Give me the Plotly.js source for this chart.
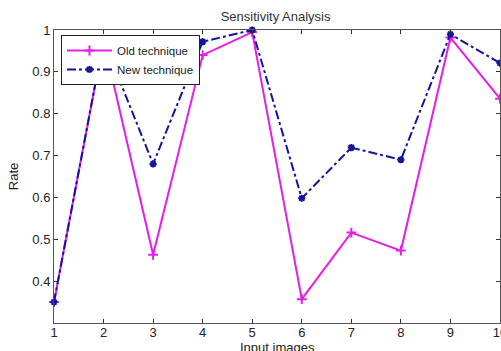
<!DOCTYPE html>
<html>
<head>
<meta charset="utf-8">
<script src="https://cdn.plot.ly/plotly-3.0.1.min.js"></script>
<style>
html,body{margin:0;padding:0;background:#fff;}
#chart{width:501px;height:351px;}
</style>
</head>
<body>
<div id="chart"></div>
<script>
var inputImages = [1, 2, 3, 4, 5, 6, 7, 8, 9, 10];
var oldTechnique = [0.35, 0.975, 0.463, 0.94, 0.995, 0.357, 0.516, 0.473, 0.982, 0.836];
var newTechnique = [0.35, 0.975, 0.68, 0.972, 1.0, 0.598, 0.719, 0.69, 0.99, 0.921];
var yTickVals = [0.4, 0.5, 0.6, 0.7, 0.8, 0.9, 1];
var yTickText = ["0.4", "0.5", "0.6", "0.7", "0.8", "0.9", "1"];
var xTickVals = [1, 2, 3, 4, 5, 6, 7, 8, 9, 10];
var xTitle = "Input images";

var fam = "Liberation Sans, Arial, sans-serif";

var traces = [
  {
    x: inputImages, y: oldTechnique, name: "Old technique",
    type: "scatter", mode: "lines+markers",
    line: {color: "#e41ee4", width: 2, dash: "solid"},
    marker: {symbol: "cross-thin-open", size: 7, line: {color: "#e41ee4", width: 2}, color: "#e41ee4"},
    cliponaxis: false
  },
  {
    x: inputImages, y: newTechnique, name: "New technique",
    type: "scatter", mode: "lines+markers",
    line: {color: "#14149e", width: 2, dash: "dashdot"},
    marker: {symbol: "asterisk-open", size: 6, line: {color: "#14149e", width: 2}, color: "#14149e"},
    cliponaxis: false
  }
];

var layout = {
  width: 501, height: 351,
  margin: {l: 54, r: 1, t: 30, b: 28, pad: 0},
  paper_bgcolor: "#fff", plot_bgcolor: "#fff",
  font: {family: fam, size: 12, color: "#222"},
  showlegend: true,
  title: {text: "Sensitivity Analysis", font: {family: fam, size: 13, color: "#333"}, x: 0.55, xanchor: "center", y: 0.952, yanchor: "middle"},
  xaxis: {
    range: [1, 10], tickvals: xTickVals, ticktext: xTickVals.map(String),
    ticks: "inside", ticklen: 4, tickcolor: "#333", tickwidth: 1,
    ticklabeloverflow: "allow", ticklabelstandoff: -3,
    showline: true, linecolor: "#555", linewidth: 1, mirror: "allticks",
    showgrid: false, zeroline: false, automargin: false,
    tickfont: {family: fam, size: 13, color: "#222"}
  },
  yaxis: {
    range: [0.3, 1], tickvals: yTickVals, ticktext: yTickText,
    ticks: "inside", ticklen: 4, tickcolor: "#333", tickwidth: 1,
    showline: true, linecolor: "#555", linewidth: 1, mirror: "allticks",
    showgrid: false, zeroline: false, automargin: false,
    tickfont: {family: fam, size: 13, color: "#222"},
    title: {text: "Rate", font: {family: fam, size: 13, color: "#222"}}
  },
  annotations: [{
    text: xTitle, xref: "paper", yref: "paper", x: 0.5, y: 0,
    xanchor: "center", yanchor: "top", yshift: -15, showarrow: false,
    font: {family: fam, size: 13, color: "#222"}
  }],
  legend: {
    x: 0.0157, y: 0.983, xanchor: "left", yanchor: "top",
    bgcolor: "#fff", bordercolor: "#222", borderwidth: 1,
    font: {family: fam, size: 11.5, color: "#222"},
    itemwidth: 45, tracegroupgap: 0
  }
};

Plotly.newPlot("chart", traces, layout, {displayModeBar: false, staticPlot: true});
</script>
</body>
</html>
